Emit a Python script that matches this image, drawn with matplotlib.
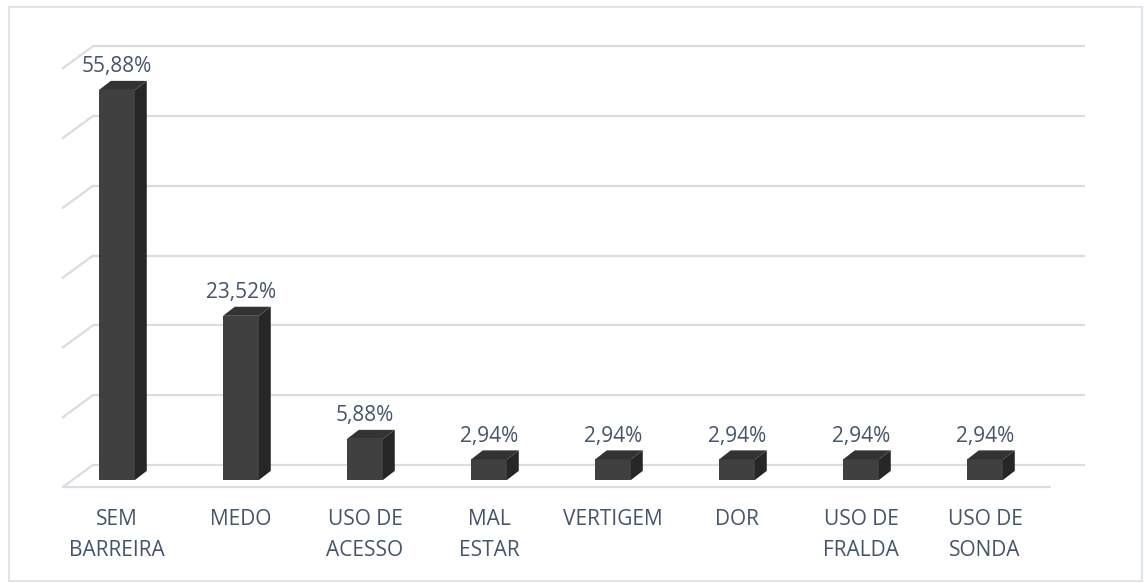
import matplotlib.pyplot as plt
from matplotlib.patches import Polygon, Rectangle

categorias = [['SEM', 'BARREIRA'], ['MEDO'], ['USO DE', 'ACESSO'], ['MAL', 'ESTAR'],
              ['VERTIGEM'], ['DOR'], ['USO DE', 'FRALDA'], ['USO DE', 'SONDA']]
valores = [55.88, 23.52, 5.88, 2.94, 2.94, 2.94, 2.94, 2.94]
rotulos = ['55,88%', '23,52%', '5,88%', '2,94%', '2,94%', '2,94%', '2,94%', '2,94%']
grade = [0, 10, 20, 30, 40, 50, 60]

# efeito 3D (profundidade em unidades de dados)
larg = 0.29
prof_x = 0.095
prof_y = 1.3
cor_frente = '#404040'
cor_lado = '#262626'
cor_topo = '#333333'
cor_grade = '#D9DCE3'
cor_texto = '#44546A'
fonte = 'Open Sans'

W, H = 1144, 583
fig = plt.figure(figsize=(W / 100, H / 100), dpi=100)

# borda do grafico
fig.patches.append(Rectangle((9 / W, 2 / H), 1133 / W, 574 / H, transform=fig.transFigure,
                             fill=False, edgecolor='#E0E3E8', linewidth=1.5))

ax = fig.add_axes([40 / W, 83 / H, 1070 / W, 470 / H])
ax.set_xlim(-0.621, 8.008)
ax.set_ylim(-2.87, 64.47)
ax.axis('off')

# grade na parede do fundo + diagonais
x_fundo0, x_fundo1 = -0.194, 7.806
dx_par, dy_par = -0.242, -3.15
for g in grade:
    yb = g + 2.15
    ax.plot([x_fundo0, x_fundo1], [yb, yb], color=cor_grade, lw=1.6, zorder=1,
            solid_capstyle='butt')
    ax.plot([x_fundo0 + dx_par, x_fundo0], [yb + dy_par, yb], color=cor_grade, lw=1.6,
            zorder=1)
# linha da frente do piso
ax.plot([x_fundo0 + dx_par, 7.532], [2.15 + dy_par, 2.15 + dy_par], color=cor_grade,
        lw=1.6, zorder=1, solid_capstyle='butt')

for i, v in enumerate(valores):
    x0 = i - larg / 2
    x1 = i + larg / 2
    ax.bar(i, v, width=larg, color=cor_frente, zorder=3, linewidth=0)
    lado = [(x1, 0), (x1 + prof_x, prof_y), (x1 + prof_x, v + prof_y), (x1, v)]
    topo = [(x0, v), (x0 + prof_x, v + prof_y), (x1 + prof_x, v + prof_y), (x1, v)]
    ax.add_patch(Polygon(lado, closed=True, facecolor=cor_lado, edgecolor='none', zorder=3))
    ax.add_patch(Polygon(topo, closed=True, facecolor=cor_topo, edgecolor='none', zorder=3))
    ax.text(i, v + prof_y + 2.0, rotulos[i], ha='center', va='center', fontsize=15,
            color=cor_texto, family=fonte)
    for k, linha in enumerate(categorias[i]):
        ax.text(i, -5.6 - 4.45 * k, linha, ha='center', va='center', fontsize=15,
                color=cor_texto, family=fonte, clip_on=False)

fig.savefig('out.png', dpi=100)
